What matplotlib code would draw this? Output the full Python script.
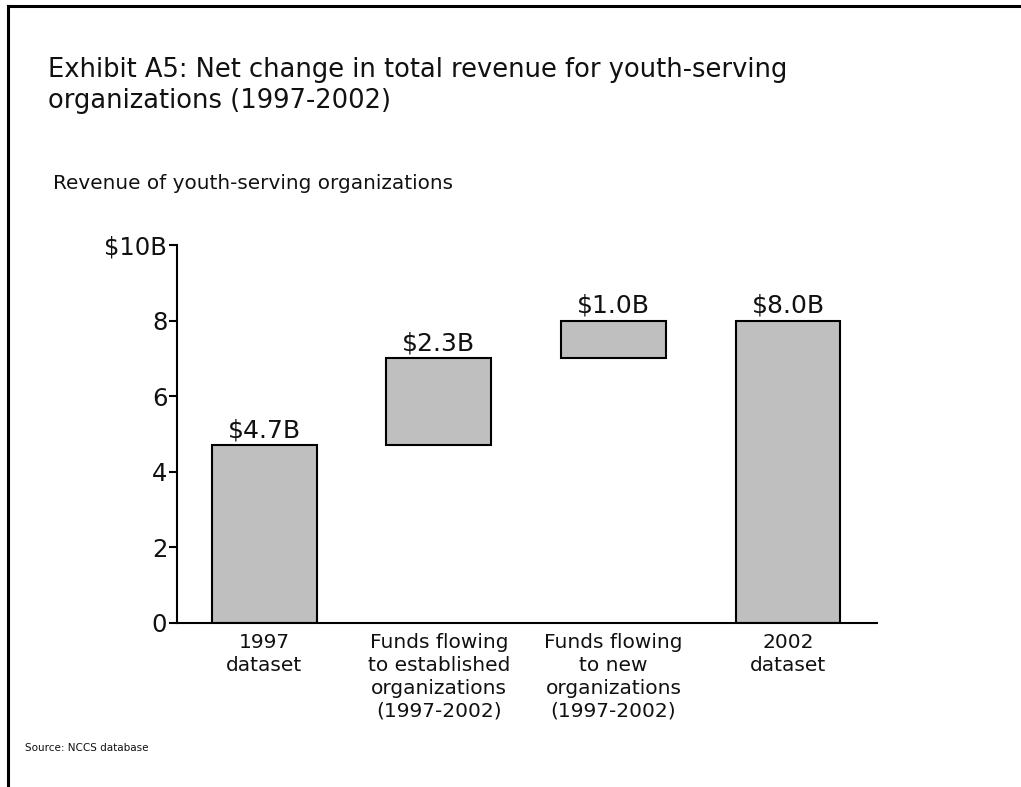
import matplotlib
matplotlib.use("Agg")
import matplotlib.pyplot as plt
from matplotlib.lines import Line2D

categories = ["1997\ndataset",
              "Funds flowing\nto established\norganizations\n(1997-2002)",
              "Funds flowing\nto new\norganizations\n(1997-2002)",
              "2002\ndataset"]
bottoms = [0.0, 4.7, 7.0, 0.0]
heights = [4.7, 2.3, 1.0, 8.0]
value_labels = ["$4.7B", "$2.3B", "$1.0B", "$8.0B"]
yticks = [0, 2, 4, 6, 8, 10]
ytick_labels = ["0", "2", "4", "6", "8", "$10B"]

W, H = 1021, 787
fig = plt.figure(figsize=(W / 100, H / 100), dpi=100)
plt.rcParams['font.family'] = ['DejaVu Sans']

# border lines (top and left)
fig.add_artist(Line2D([8 / W, 1], [1 - 6 / H, 1 - 6 / H], color='black', lw=2.2, transform=fig.transFigure))
fig.add_artist(Line2D([8 / W, 8 / W], [1 - 6 / H, 0], color='black', lw=2.2, transform=fig.transFigure))

fig.text(48 / W, 1 - 77 / H, "Exhibit A5: Net change in total revenue for youth-serving", fontsize=18.5, va='baseline', ha='left', color='#111111')
fig.text(48 / W, 1 - 108 / H, "organizations (1997-2002)", fontsize=18.5, va='baseline', ha='left', color='#111111')
fig.text(53 / W, 1 - 189 / H, "Revenue of youth-serving organizations", fontsize=14.4, va='baseline', ha='left', color='#111111')
fig.text(25 / W, 1 - 751 / H, "Source: NCCS database", fontsize=7.5, va='baseline', ha='left', color='#111111')

ax_left, ax_right = 177, 877
ax_top, ax_bot = 245, 623
ax = fig.add_axes([ax_left / W, 1 - ax_bot / H, (ax_right - ax_left) / W, (ax_bot - ax_top) / H])

x = list(range(len(categories)))
ax.bar(x, heights, bottom=bottoms, width=0.6, color='#bfbfbf', edgecolor='black', linewidth=1.5)
for xi, b, h, lab in zip(x, bottoms, heights, value_labels):
    ax.text(xi, b + h + 0.08, lab, ha='center', va='bottom', fontsize=18, color='#111111')

ax.set_xlim(-0.5, 3.51)
ax.set_ylim(0, 10)
ax.set_yticks(yticks)
ax.set_yticklabels(ytick_labels, fontsize=17.5, color='#111111')
ax.set_xticks(x)
ax.set_xticklabels(categories, fontsize=14.5, linespacing=1.27, color='#111111')
ax.tick_params(axis='x', length=0, pad=7)
ax.tick_params(axis='y', length=6, width=1.5, pad=1)
for s in ['top', 'right']:
    ax.spines[s].set_visible(False)
for s in ['left', 'bottom']:
    ax.spines[s].set_linewidth(1.5)

fig.savefig("out.png", dpi=100)
